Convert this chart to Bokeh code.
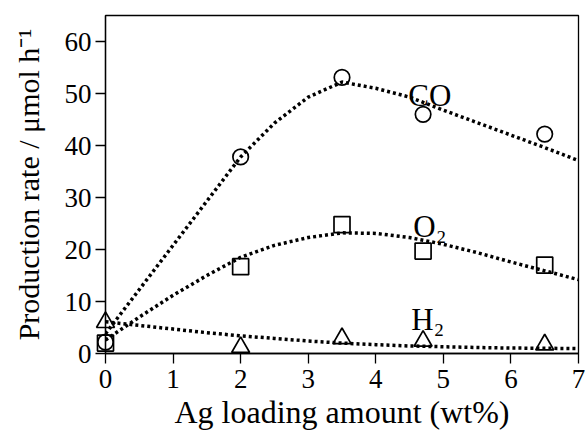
from bokeh.plotting import figure
from bokeh.models import Range1d, ColumnDataSource
from bokeh.embed import file_html
from bokeh.resources import INLINE
from bokeh.core.properties import value

# ---- measured data (Ag loading amount, wt%) ----
loading = [0, 2, 3.5, 4.7, 6.5]
co_rate = [2.2, 37.8, 53.1, 46.0, 42.2]
o2_rate = [2.0, 16.7, 24.8, 19.7, 17.0]
h2_rate = [6.0, 1.2, 2.9, 2.4, 1.7]

# ---- dotted guide curves ----
curve_x = [0, 0.5, 1, 1.5, 2, 2.5, 3, 3.5, 4, 4.5, 5, 5.5, 6, 6.5, 7]
co_curve = [3.8, 12.3, 20.8, 29.3, 37.8, 44.3, 49.3, 52.2, 51.0, 49.3, 46.8, 44.4, 42.0, 39.6, 37.1]
o2_curve = [2.6, 7.0, 11.2, 15.0, 18.5, 20.8, 22.3, 23.2, 23.1, 22.3, 21.0, 19.4, 17.6, 15.9, 14.2]
h2_curve = [6.1, 5.4, 4.7, 4.0, 3.4, 2.9, 2.4, 2.0, 1.7, 1.45, 1.3, 1.15, 1.05, 1.0, 0.95]

# ---- axis ticks and series labels ----
x_ticks = [0, 1, 2, 3, 4, 5, 6, 7]
y_ticks = [0, 10, 20, 30, 40, 50, 60]
species = ["CO", "O\u2082", "H\u2082"]
label_x = [4.8, 4.8, 4.77]
label_y = [49.6, 24.4, 6.6]

FONT = "Liberation Serif"

p = figure(width=585, height=432, output_backend="svg", toolbar_location=None,
           x_range=Range1d(0, 7), y_range=Range1d(0, 65),
           min_border_left=105, min_border_right=7, min_border_top=15, min_border_bottom=79)
p.background_fill_color = "white"
p.border_fill_color = "white"
p.grid.visible = False
p.outline_line_color = "black"
p.outline_line_width = 1.3
p.outline_line_alpha = 1.0

for ax in (p.xaxis[0], p.yaxis[0]):
    ax.axis_line_color = "black"
    ax.axis_line_width = 1.3
    ax.major_tick_line_color = "black"
    ax.major_tick_line_width = 1.3
    ax.major_tick_out = 10
    ax.major_tick_in = 0
    ax.minor_tick_line_color = None
    ax.major_label_text_font = FONT
    ax.major_label_text_font_size = "27px"
    ax.major_label_text_color = "black"
    ax.axis_label_text_font = FONT
    ax.axis_label_text_font_style = "normal"
    ax.axis_label_text_color = "black"

p.xaxis.ticker = x_ticks
p.yaxis.ticker = y_ticks
p.xaxis.axis_label = "Ag loading amount (wt%)"
p.yaxis.axis_label = "Production rate / \u03bcmol h\u207b\u00b9"
p.xaxis.axis_label_text_font_size = "32px"
p.yaxis.axis_label_text_font_size = "30px"
p.xaxis.major_label_standoff = 6
p.yaxis.major_label_standoff = 4
p.xaxis.axis_label_standoff = 3
p.yaxis.axis_label_standoff = 17

curves = ColumnDataSource(dict(x=curve_x, co=co_curve, o2=o2_curve, h2=h2_curve))
for col in ("co", "o2", "h2"):
    p.line("x", col, source=curves, line_color="black", line_width=3.5, line_dash="3 3")

pts = ColumnDataSource(dict(x=loading, co=co_rate, o2=o2_rate, h2=h2_rate))
p.scatter("x", "co", source=pts, marker="circle", size=15.5, fill_color=None,
          line_color="black", line_width=1.7, level="overlay")
p.scatter("x", "o2", source=pts, marker="square", size=16, fill_color=None,
          line_color="black", line_width=1.7, level="overlay")
p.scatter("x", "h2", source=pts, marker="triangle", size=18, fill_color=None,
          line_color="black", line_width=1.7, level="overlay")

labels = ColumnDataSource(dict(x=label_x, y=label_y, t=species))
p.text("x", "y", text="t", source=labels, text_font=value(FONT), text_font_size="31px",
       text_align="center", text_baseline="alphabetic", text_color="black")

open("out.html", "w").write(file_html(p, INLINE))
